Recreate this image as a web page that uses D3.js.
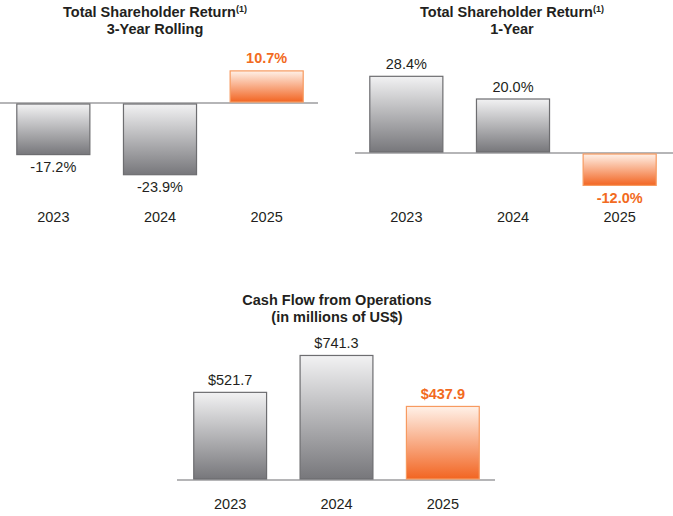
<!DOCTYPE html>
<html>
<head>
<meta charset="utf-8">
<script src="https://cdn.jsdelivr.net/npm/d3@7"></script>
<style>
  body { margin: 0; background: #fff; }
  text { font-family: "Liberation Sans", Arial, Helvetica, sans-serif; fill: #231f20; }
</style>
</head>
<body>
<div class="chartArea"></div>
<script>
const years = ["2023", "2024", "2025"];
const tsr3Year = [-17.2, -23.9, 10.7];
const tsr1Year = [28.4, 20.0, -12.0];
const cashFlow = [521.7, 741.3, 437.9];

const tsr3Labels = ["-17.2%", "-23.9%", "10.7%"];
const tsr1Labels = ["28.4%", "20.0%", "-12.0%"];
const cashLabels = ["$521.7", "$741.3", "$437.9"];

const orange = "#f26a21";

let svg = d3.select('.chartArea')
	.append('svg')
	.attr('width', 673)
	.attr('height', 516);

let defs = svg.append('defs');

function addGradient(id, top, bottom) {
	let g = defs.append('linearGradient')
		.attr('id', id)
		.attr('x1', 0).attr('y1', 0)
		.attr('x2', 0).attr('y2', 1);
	g.append('stop').attr('offset', '0%').attr('stop-color', top);
	g.append('stop').attr('offset', '100%').attr('stop-color', bottom);
}
addGradient('grayGrad', '#f2f2f3', '#77777b');
addGradient('orangeGrad', '#fff1e8', '#f26522');

function drawChart(opts) {
	let g = svg.append('g');

	let x = d3.scaleBand()
		.domain(years)
		.range(opts.xRange)
		.paddingInner(0.315)
		.paddingOuter(0.1575);

	let y = d3.scaleLinear()
		.domain(opts.yDomain)
		.range(opts.yRange);

	let rows = years.map((d, i) => ({ year: d, value: opts.values[i], label: opts.labels[i], last: i == years.length - 1 }));

	// baseline
	g.append('line')
		.attr('x1', opts.lineRange[0])
		.attr('x2', opts.lineRange[1])
		.attr('y1', y(0))
		.attr('y2', y(0))
		.attr('stroke', '#b5b5b7')
		.attr('stroke-width', 2);

	g.selectAll('rect.bar')
		.data(rows)
		.join('rect')
		.attr('class', 'bar')
		.attr('x', d => x(d.year))
		.attr('width', x.bandwidth())
		.attr('y', d => d.value >= 0 ? y(d.value) : y(0) + 1)
		.attr('height', d => Math.abs(y(d.value) - y(0)) - 1)
		.attr('fill', d => d.last ? 'url(#orangeGrad)' : 'url(#grayGrad)')
		.attr('stroke', d => d.last ? '#f79a60' : '#6d6d70')
		.attr('stroke-width', 1.2);

	g.selectAll('text.value')
		.data(rows)
		.join('text')
		.attr('class', 'value')
		.text(d => d.label)
		.attr('x', d => x(d.year) + x.bandwidth() / 2)
		.attr('y', d => d.value >= 0 ? y(d.value) - 7.5 : y(d.value) + 17.5)
		.attr('text-anchor', 'middle')
		.attr('font-size', '14.5px')
		.attr('font-weight', d => d.last ? 'bold' : 'normal')
		.style('fill', d => d.last ? orange : '#231f20');

	let axis = g.append('g')
		.attr('transform', `translate(0,${opts.axisY})`)
		.call(d3.axisBottom(x).tickSize(0).tickPadding(0));
	axis.select('.domain').remove();
	axis.selectAll('text')
		.attr('dy', 0)
		.attr('font-size', '14.5px')
		.attr('font-family', '"Liberation Sans", Arial, sans-serif')
		.style('fill', '#231f20');

	let t1 = g.append('text')
		.attr('x', opts.titleX)
		.attr('y', opts.titleY)
		.attr('text-anchor', 'middle')
		.attr('font-size', '14.5px')
		.attr('font-weight', 'bold');
	t1.append('tspan').text(opts.title[0]);
	if (opts.sup) {
		t1.append('tspan')
			.text('(1)')
			.attr('font-size', '9px')
			.attr('dy', -5);
	}
	g.append('text')
		.text(opts.title[1])
		.attr('x', opts.titleX)
		.attr('y', opts.titleY + 17)
		.attr('text-anchor', 'middle')
		.attr('font-size', '14.5px')
		.attr('font-weight', 'bold');
}

drawChart({
	values: tsr3Year, labels: tsr3Labels,
	xRange: [0, 320], lineRange: [0, 318],
	yDomain: [-25, 15], yRange: [178, 58],
	axisY: 222,
	title: ["Total Shareholder Return", "3-Year Rolling"], sup: true,
	titleX: 155, titleY: 17
});

drawChart({
	values: tsr1Year, labels: tsr1Labels,
	xRange: [353, 673], lineRange: [355, 673],
	yDomain: [-15, 30], yRange: [193.5, 72],
	axisY: 222,
	title: ["Total Shareholder Return", "1-Year"], sup: true,
	titleX: 512, titleY: 17
});

drawChart({
	values: cashFlow, labels: cashLabels,
	xRange: [177, 496], lineRange: [177, 495],
	yDomain: [0, 800], yRange: [480, 345.6],
	axisY: 509,
	title: ["Cash Flow from Operations", "(in millions of US$)"], sup: false,
	titleX: 337, titleY: 305
});
</script>
</body>
</html>
